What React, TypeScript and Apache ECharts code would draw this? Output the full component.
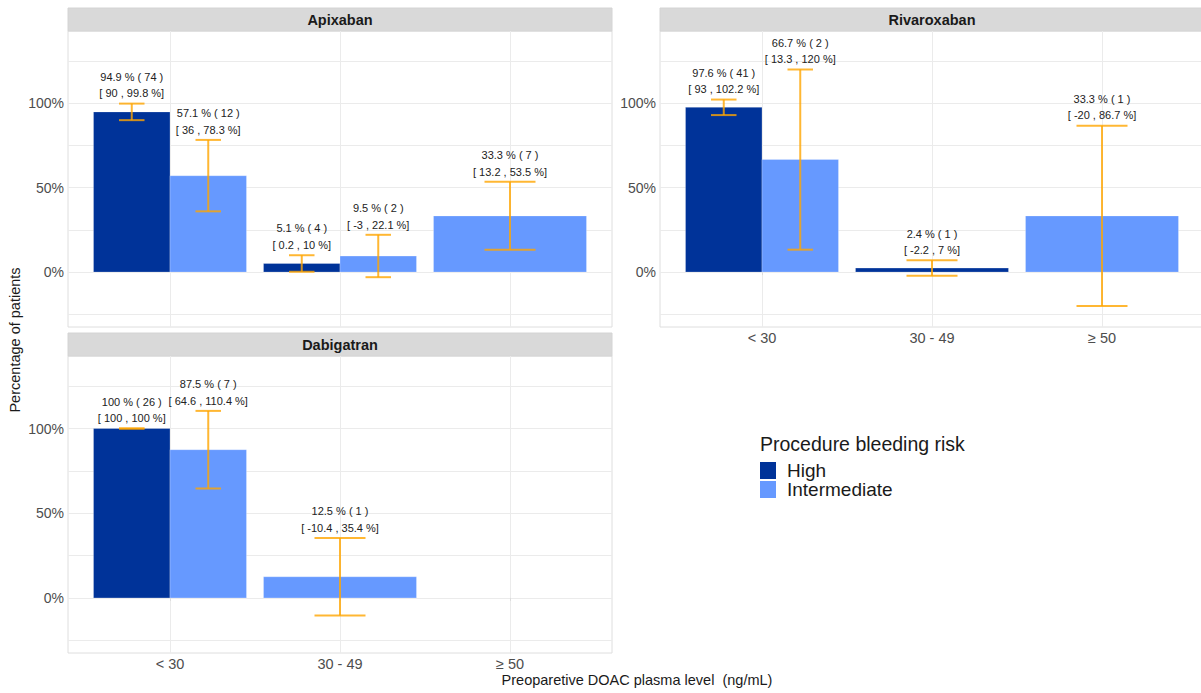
import React, { useEffect, useRef } from 'react';
import * as echarts from 'echarts';

// Plasma level categories and facets
const levels = ['< 30', '30 - 49', '≥ 50'];
const drugs = ['Apixaban', 'Rivaroxaban', 'Dabigatran'];
const riskGroups = ['High', 'Intermediate'];
const riskColors = ['#003399', '#6699FF'];

// Per plasma level: [percentage, n, CI lower, CI upper]; null = no patients
type Cell = [number, number, number, number] | null;
const apixabanHigh: Cell[] = [[94.9, 74, 90, 99.8], [5.1, 4, 0.2, 10], null];
const apixabanIntermediate: Cell[] = [[57.1, 12, 36, 78.3], [9.5, 2, -3, 22.1], [33.3, 7, 13.2, 53.5]];
const rivaroxabanHigh: Cell[] = [[97.6, 41, 93, 102.2], [2.4, 1, -2.2, 7], null];
const rivaroxabanIntermediate: Cell[] = [[66.7, 2, 13.3, 120], null, [33.3, 1, -20, 86.7]];
const dabigatranHigh: Cell[] = [[100, 26, 100, 100], null, null];
const dabigatranIntermediate: Cell[] = [[87.5, 7, 64.6, 110.4], [12.5, 1, -10.4, 35.4], null];

const panelCells: Cell[][][] = [
  [apixabanHigh, apixabanIntermediate],
  [rivaroxabanHigh, rivaroxabanIntermediate],
  [dabigatranHigh, dabigatranIntermediate],
];

// Axis ticks
const yLabelTicks = [0, 50, 100];
const yGridTicks = [-25, 0, 25, 50, 75, 100, 125];
const xTicks = [1, 2, 3];

const FONT = '"Liberation Sans", Arial, Helvetica, sans-serif';
const PANEL_W = 544;
const STRIP_H = 23;
const panels = [
  { left: 68, top: 31, height: 296, showX: false },
  { left: 660, top: 31, height: 296, showX: true },
  { left: 68, top: 356, height: 297, showX: true },
];

// Dodge bars within each level (total width 0.9, shared among present groups)
function dodgeRows(cells: Cell[][], g: number) {
  const rows: number[][] = [];
  levels.forEach((_, i) => {
    const present = cells.map((c, k) => (c[i] ? k : -1)).filter((k) => k >= 0);
    const cell = cells[g][i];
    if (!cell) return;
    const w = 0.9 / present.length;
    const j = present.indexOf(g);
    const x = i + 1 - 0.45 + w * (j + 0.5);
    rows.push([x, cell[0], cell[2], cell[3], cell[1], w]);
  });
  return rows;
}

const renderBar = (_params: any, api: any) => {
  const x = api.value(0);
  const pct = api.value(1);
  const lo = api.value(2);
  const hi = api.value(3);
  const n = api.value(4);
  const w = api.value(5);
  const tl = api.coord([x - w / 2, pct]);
  const br = api.coord([x + w / 2, 0]);
  const top = api.coord([x, hi]);
  const bot = api.coord([x, lo]);
  const half = (br[0] - tl[0]) / 6;
  const errStyle = { stroke: 'rgba(255,165,0,0.8)', lineWidth: 2 };
  return {
    type: 'group',
    children: [
      {
        type: 'rect',
        shape: { x: tl[0], y: tl[1], width: br[0] - tl[0], height: br[1] - tl[1] },
        style: { fill: api.visual('color'), stroke: 'rgba(255,255,255,0.25)', lineWidth: 1 },
      },
      { type: 'line', shape: { x1: top[0], y1: top[1], x2: bot[0], y2: bot[1] }, style: errStyle },
      { type: 'line', shape: { x1: top[0] - half, y1: top[1], x2: top[0] + half, y2: top[1] }, style: errStyle },
      { type: 'line', shape: { x1: bot[0] - half, y1: bot[1], x2: bot[0] + half, y2: bot[1] }, style: errStyle },
      {
        type: 'text',
        x: top[0],
        y: top[1] - 2,
        style: {
          text: `${pct} % ( ${n} )\n[ ${lo} , ${hi} %]`,
          align: 'center',
          verticalAlign: 'bottom',
          fontSize: 11,
          lineHeight: 16.5,
          fontFamily: FONT,
          fill: '#222',
        },
      },
    ],
  };
};

export default function App() {
  const ref = useRef<HTMLDivElement>(null);

  useEffect(() => {
    if (!ref.current) return;
    const chart = echarts.init(ref.current, null, { renderer: 'svg' });

    const grid = panels.map((p) => ({
      left: p.left,
      top: p.top,
      width: PANEL_W,
      height: p.height,
      show: true,
      backgroundColor: '#fff',
      borderColor: '#dedede',
      borderWidth: 1,
      containLabel: false,
      outerBoundsMode: 'none',
    }));

    const xAxis = panels.map((p, i) => ({
      type: 'value',
      gridIndex: i,
      min: 0.4,
      max: 3.6,
      axisLine: { show: false },
      axisTick: { show: p.showX, customValues: xTicks, length: 3, lineStyle: { color: '#dcdcdc' } },
      axisLabel: {
        show: p.showX,
        customValues: xTicks,
        formatter: (v: number) => levels[Math.round(v) - 1] ?? '',
        color: '#4d4d4d',
        fontSize: 14.5,
        fontFamily: FONT,
        margin: 3,
      },
      splitLine: { show: true, lineStyle: { color: '#ebebeb', width: 1 } },
    }));

    const yAxis = panels.map((_, i) => ({
      type: 'value',
      gridIndex: i,
      min: -32.5,
      max: 142.8,
      axisLine: { show: false },
      axisTick: { show: false, customValues: yGridTicks },
      axisLabel: {
        customValues: yLabelTicks,
        formatter: (v: number) => `${v}%`,
        color: '#4d4d4d',
        fontSize: 14,
        fontFamily: FONT,
        margin: 4,
      },
      splitLine: { show: true, lineStyle: { color: '#ebebeb', width: 1 } },
    }));

    const series: any[] = [];
    panelCells.forEach((cells, p) => {
      riskGroups.forEach((name, g) => {
        series.push({
          type: 'custom',
          name,
          xAxisIndex: p,
          yAxisIndex: p,
          itemStyle: { color: riskColors[g] },
          renderItem: renderBar,
          encode: { x: 0, y: 1 },
          data: dodgeRows(cells, g),
          clip: false,
        });
      });
    });

    const strips: any[] = [];
    panels.forEach((p, i) => {
      strips.push({
        type: 'rect',
        shape: { x: p.left, y: p.top - STRIP_H, width: PANEL_W, height: STRIP_H },
        style: { fill: '#d9d9d9', stroke: '#d4d4d4', lineWidth: 1 },
      });
      strips.push({
        type: 'text',
        x: p.left + PANEL_W / 2,
        y: p.top - STRIP_H / 2,
        style: {
          text: drugs[i],
          align: 'center',
          verticalAlign: 'middle',
          fontSize: 14.5,
          fontWeight: 'bold',
          fontFamily: FONT,
          fill: '#1a1a1a',
        },
      });
    });

    chart.setOption({
      animation: false,
      backgroundColor: '#fff',
      grid,
      xAxis,
      yAxis,
      series,
      legend: {
        data: riskGroups.map((name) => ({ name, icon: 'rect' })),
        orient: 'vertical',
        left: 760,
        top: 461,
        padding: 0,
        itemWidth: 16,
        itemHeight: 17,
        itemGap: 0,
        selectedMode: false,
        textStyle: { fontSize: 19, lineHeight: 17, color: '#1a1a1a', fontFamily: FONT, padding: [0, 0, 0, 6] },
      },
      graphic: [
        ...strips,
        {
          type: 'text',
          x: 15,
          y: 340,
          rotation: Math.PI / 2,
          style: {
            text: 'Percentage of patients',
            align: 'center',
            verticalAlign: 'middle',
            fontSize: 14.5,
            fontFamily: FONT,
            fill: '#1a1a1a',
          },
        },
        {
          type: 'text',
          x: 637,
          y: 680,
          style: {
            text: 'Preoparetive DOAC plasma level  (ng/mL)',
            align: 'center',
            verticalAlign: 'middle',
            fontSize: 14.5,
            fontFamily: FONT,
            fill: '#1a1a1a',
          },
        },
        {
          type: 'text',
          x: 760,
          y: 444,
          style: {
            text: 'Procedure bleeding risk',
            align: 'left',
            verticalAlign: 'middle',
            fontSize: 19.5,
            fontFamily: FONT,
            fill: '#1a1a1a',
          },
        },
      ],
    });

    return () => chart.dispose();
  }, []);

  return (
    <div
      ref={ref}
      style={{ position: 'absolute', left: 0, top: 0, width: 1201, height: 693, background: '#fff' }}
    />
  );
}
